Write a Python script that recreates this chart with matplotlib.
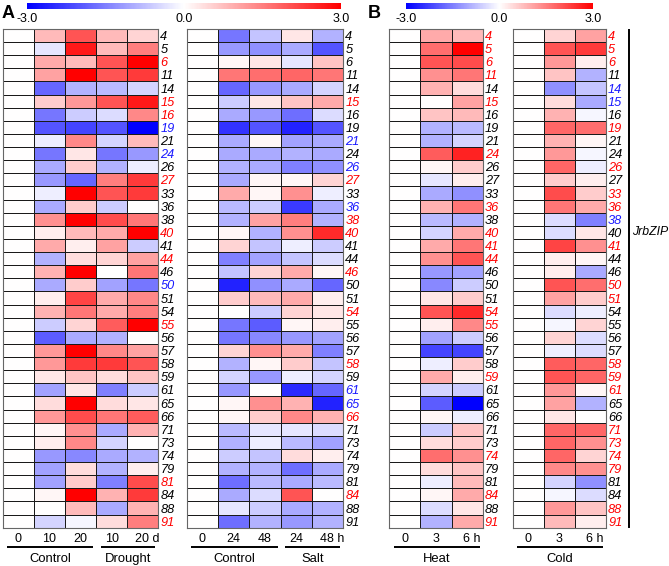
import numpy as np
import matplotlib.pyplot as plt
from matplotlib.colors import LinearSegmentedColormap, Normalize
from matplotlib.cm import ScalarMappable
from matplotlib.transforms import ScaledTranslation

plt.rcParams['font.family'] = ['Liberation Sans', 'DejaVu Sans']

genes = [4, 5, 6, 11, 14, 15, 16, 19, 21, 24, 26, 27, 33, 36, 38, 40, 41, 44, 46,
         50, 51, 54, 55, 56, 57, 58, 59, 61, 65, 66, 71, 73, 74, 79, 81, 84, 88, 91]

# log2 fold change, columns as in the tick labels
drought_ticks = ['0', '10', '20', '10', '20 d']
drought = np.array([
    [0, 0.8, 2.0, 0.8, 0.5], [0, -0.3, 2.7, 0.8, 1.5], [0, 1.0, 0.8, 2.0, 3.0],
    [0, 1.1, 3.0, 2.0, 2.3], [0, -1.8, -0.9, -0.8, -0.5], [0, 0.6, 1.2, 2.0, 2.7],
    [0, -1.6, -0.6, -0.4, 1.4], [0, -2.0, -2.2, -2.0, -3.0], [0, -0.2, 1.4, -0.5, 0.8],
    [0, -1.6, 0.3, -1.6, -1.2], [0, -1.0, 0.6, -0.9, -0.2], [0, -1.2, -1.8, 1.5, 2.3],
    [0, -0.2, 3.0, 2.0, 2.3], [0, -1.0, 0.6, -0.6, 0.0], [0, 1.3, 3.0, 2.1, 1.6],
    [0, 0.2, 0.8, 1.0, 3.0], [0, 1.0, 0.2, 1.1, -0.6], [0, -0.9, 0.4, 0.5, 1.1],
    [0, 0.9, 3.0, 0.0, 1.6], [0, -1.0, 0.6, -1.1, -1.6], [0, 0.2, 2.2, 1.0, 1.4],
    [0, 0.9, 1.6, 1.0, 1.5], [0, -0.6, 0.5, 1.9, 3.0], [0, -1.9, -1.0, -0.9, 0.0],
    [0, 1.2, 3.0, 1.4, 1.1], [0, 1.2, 2.3, 2.3, 2.0], [0, 0.3, 0.7, 0.4, 0.7],
    [0, -1.1, 0.3, -1.5, -0.6], [0, 0.4, 3.0, 0.4, 0.3], [0, 1.2, 2.1, 1.6, 1.9],
    [0, 0.1, 1.3, -1.0, 0.9], [0, 0.2, 1.4, -0.5, 0.0], [0, -1.2, -1.4, -1.0, -0.9],
    [0, -1.1, 0.4, -0.9, 0.2], [0, -1.1, 0.6, -1.5, 2.1], [0, 0.1, 3.0, 0.9, 2.3],
    [0, 0.0, 0.8, -1.0, 0.9], [0, -0.5, -0.1, 0.4, 1.5]])
drought_lab = 'kkrkkrrbkbkrkkkrkrkbkkrkkkkkkkkkkkrkkr'

salt_ticks = ['0', '24', '48', '24', '48 h']
salt = np.array([
    [0, -1.6, -0.7, 0.3, -0.9], [0, -1.2, -1.3, -1.0, -2.0], [0, 0.1, 0.3, -0.3, 0.7],
    [0, 1.6, 1.7, 1.8, 1.6], [0, -1.8, -1.2, -1.0, -0.5], [0, -0.6, 0.3, 0.7, 1.0],
    [0, -1.0, -1.2, -1.7, -0.4], [0, -2.4, -2.0, -2.6, -2.0], [0, -1.0, 0.1, -1.1, -1.0],
    [0, -1.0, -1.0, -0.9, -1.0], [0, -0.9, -1.0, -1.5, -1.3], [0, -1.0, 0.1, 0.1, 0.5],
    [0, 1.0, 0.1, 1.3, -0.2], [0, -0.8, -0.6, -2.3, -1.0], [0, -0.9, 1.1, 1.5, -0.9],
    [0, 0.1, -0.9, 1.3, 2.5], [0, 0.5, -0.7, -0.2, -0.6], [0, -1.5, -1.1, -0.7, -0.4],
    [0, -0.7, 0.5, 1.0, 0.1], [0, -2.6, -1.3, -1.0, -1.8], [0, 0.6, 0.8, 1.0, 0.2],
    [0, 0.0, -0.6, 0.5, 0.3], [0, -1.6, -1.9, 0.1, 0.2], [0, -1.6, -1.4, -1.2, -1.1],
    [0, 0.5, 1.3, 1.0, -1.5], [0, -0.9, 0.1, 0.6, -0.7], [0, -0.5, -1.2, -0.2, -0.5],
    [0, -1.2, 0.0, -2.5, -1.8], [0, 0.1, 1.3, 0.9, -2.6], [0, 0.1, 0.6, 1.4, 0.9],
    [0, -0.8, -0.3, -0.3, -0.4], [0, -0.9, -0.2, -0.8, -1.1], [0, -0.6, -0.7, 0.4, 0.2],
    [0, -0.9, -0.9, -1.7, -1.0], [0, -1.7, -0.8, -1.0, -0.8], [0, -1.0, -0.4, 2.0, 0.0],
    [0, -0.3, -0.6, -1.0, -0.9], [0, -1.7, -0.9, -1.2, -0.9]])
salt_lab = 'kkkkkrkkbkbrkbrrkkrkkrkkkrkbbrkkkkkrkk'

heat_ticks = ['0', '3', '6 h']
heat = np.array([
    [0, 1.0, 0.8], [0, 1.7, 3.0], [0, 2.0, 2.1], [0, 1.3, 1.6], [0, 0.9, 0.4],
    [0, 0.0, 1.1], [0, 0.7, 0.8], [0, -0.9, -0.8], [0, -0.9, -0.5], [0, 1.9, 2.6],
    [0, 0.1, 0.6], [0, -0.3, 0.2], [0, -1.0, -1.3], [0, 0.9, 1.6], [0, -0.8, -0.9],
    [0, -0.5, 1.0], [0, 1.0, 1.6], [0, 1.3, 2.0], [0, -1.2, -1.1], [0, -1.4, -0.6],
    [0, 0.3, 0.6], [0, 2.0, 2.5], [0, 0.2, 1.4], [0, -1.1, -0.6], [0, -2.2, -2.2],
    [0, -0.2, 0.6], [0, 1.0, 0.2], [0, -0.5, -0.6], [0, -1.9, -3.0], [0, 0.1, -0.2],
    [0, -0.6, 0.7], [0, 0.4, 0.6], [0, 1.7, 1.3], [0, 0.4, 0.7], [0, -0.2, 0.8],
    [0, 0.1, 1.0], [0, -0.4, 0.3], [0, -0.9, 1.0]])
heat_lab = 'rrrrkrkkkrkkkrkrrrkkkrrkkkrkkkkkrkkrkr'

cold_ticks = ['0', '3', '6 h']
cold = np.array([
    [0, 0.5, 1.1], [0, 2.0, 2.3], [0, 1.2, 0.2], [0, 0.7, -0.9], [0, -1.3, -0.7],
    [0, 0.4, -1.0], [0, 0.9, -0.1], [0, 1.8, 1.7], [0, 0.9, 0.1], [0, 1.2, -0.1],
    [0, 1.8, -0.2], [0, 0.6, 0.2], [0, 2.1, 0.6], [0, 1.6, 1.0], [0, -0.4, -1.5],
    [0, -0.4, 0.3], [0, 2.2, 1.3], [0, 0.2, 0.1], [0, 0.2, -1.0], [0, 2.0, 1.7],
    [0, 1.1, 0.6], [0, -0.4, -0.2], [0, -0.1, 0.5], [0, 0.5, -0.4], [0, -0.2, -0.4],
    [0, 1.9, 1.8], [0, 2.0, 1.8], [0, 1.2, 0.1], [0, 1.1, -0.9], [0, 0.3, 0.0],
    [0, 1.8, 1.8], [0, 1.8, 1.3], [0, 1.8, 0.5], [0, 1.4, 1.3], [0, -0.5, -1.3],
    [0, -0.1, -0.4], [0, 1.2, 0.7], [0, 0.8, 0.2]])
cold_lab = 'rrrkbbkrkkrkrrbkrkkrrkkkkrrrkkrrrrkkrr'

lab_col = {'k': 'black', 'r': '#ff0000', 'b': '#1a1aff'}
cmap = LinearSegmentedColormap.from_list('bwr3', ['#0000ff', '#ffffff', '#ff0000'])
norm = Normalize(-3, 3)

W, H = 669, 566
fig = plt.figure(figsize=(W / 100, H / 100), dpi=100)


def box(x0, y0, x1, y1):
    # pixel box (top-left origin) -> figure fraction
    return [x0 / W, 1 - y1 / H, (x1 - x0) / W, (y1 - y0) / H]


def draw_heat(rect, vals, ticks, labs, groups):
    ax = fig.add_axes(box(*rect))
    ax.pcolormesh(vals, cmap=cmap, norm=norm, edgecolors='0.1', linewidth=0.7)
    ax.set_xlim(0, vals.shape[1])
    ax.set_ylim(len(genes), 0)
    ax.set_xticks(np.arange(vals.shape[1]) + 0.5, ticks, fontsize=9)
    ax.set_yticks(np.arange(len(genes)) + 0.5, genes, fontsize=9.2, style='italic')
    ax.yaxis.tick_right()
    ax.tick_params(axis='x', length=0, pad=3.5)
    ax.tick_params(axis='y', length=0, pad=1.5)
    for t, c in zip(ax.get_yticklabels(), labs):
        t.set_color(lab_col[c])
    last = ax.get_xticklabels()[-1]
    if ' ' in last.get_text():
        last.set_transform(last.get_transform() + ScaledTranslation(3 / 72, 0, fig.dpi_scale_trans))
    for sp in ax.spines.values():
        sp.set_color('0.4')
        sp.set_linewidth(0.8)
    tr = ax.get_xaxis_transform()
    for name, a, b in groups:
        ax.plot([a + 0.15, b + 0.9], [-0.039, -0.039], transform=tr, clip_on=False,
                color='black', lw=1.4, solid_capstyle='butt')
        ax.text((a + b + 1.05) / 2, -0.062, name, transform=tr, ha='center', va='center',
                fontsize=9.4)
    return ax


top, bot = 29, 527.7
draw_heat((2.7, top, 158.3, bot), drought, drought_ticks, drought_lab,
          [('Control', 0, 2), ('Drought', 3, 4)])
draw_heat((186.7, top, 343.3, bot), salt, salt_ticks, salt_lab,
          [('Control', 0, 2), ('Salt', 3, 4)])
draw_heat((389.3, top, 482.7, bot), heat, heat_ticks, heat_lab, [('Heat', 0, 2)])
ax4 = draw_heat((512.7, top, 606, bot), cold, cold_ticks, cold_lab, [('Cold', 0, 2)])

ax4.plot([1.25, 1.25], [0.002, 0.998], transform=ax4.transAxes, clip_on=False,
         color='black', lw=1.4)
fig.text(632 / W, 1 - 232 / H, 'JrbZIP', style='italic', fontsize=8.8, va='center')

for rect in [(27, 2.7, 340.7, 9.3), (405.7, 2.7, 593.3, 9.3)]:
    cax = fig.add_axes(box(*rect))
    cb = fig.colorbar(ScalarMappable(norm=norm, cmap=cmap), cax=cax,
                      orientation='horizontal', ticks=[-3, 0, 3])
    cb.ax.set_xticklabels(['-3.0', '0.0', '3.0'], fontsize=9)
    cb.ax.tick_params(length=0, pad=2.5)
    cb.outline.set_visible(False)

fig.text(2 / W, 1 - 14 / H, 'A', fontsize=13, fontweight='bold', va='center')
fig.text(368 / W, 1 - 14 / H, 'B', fontsize=13, fontweight='bold', va='center')

fig.savefig('out.png', dpi=100)
